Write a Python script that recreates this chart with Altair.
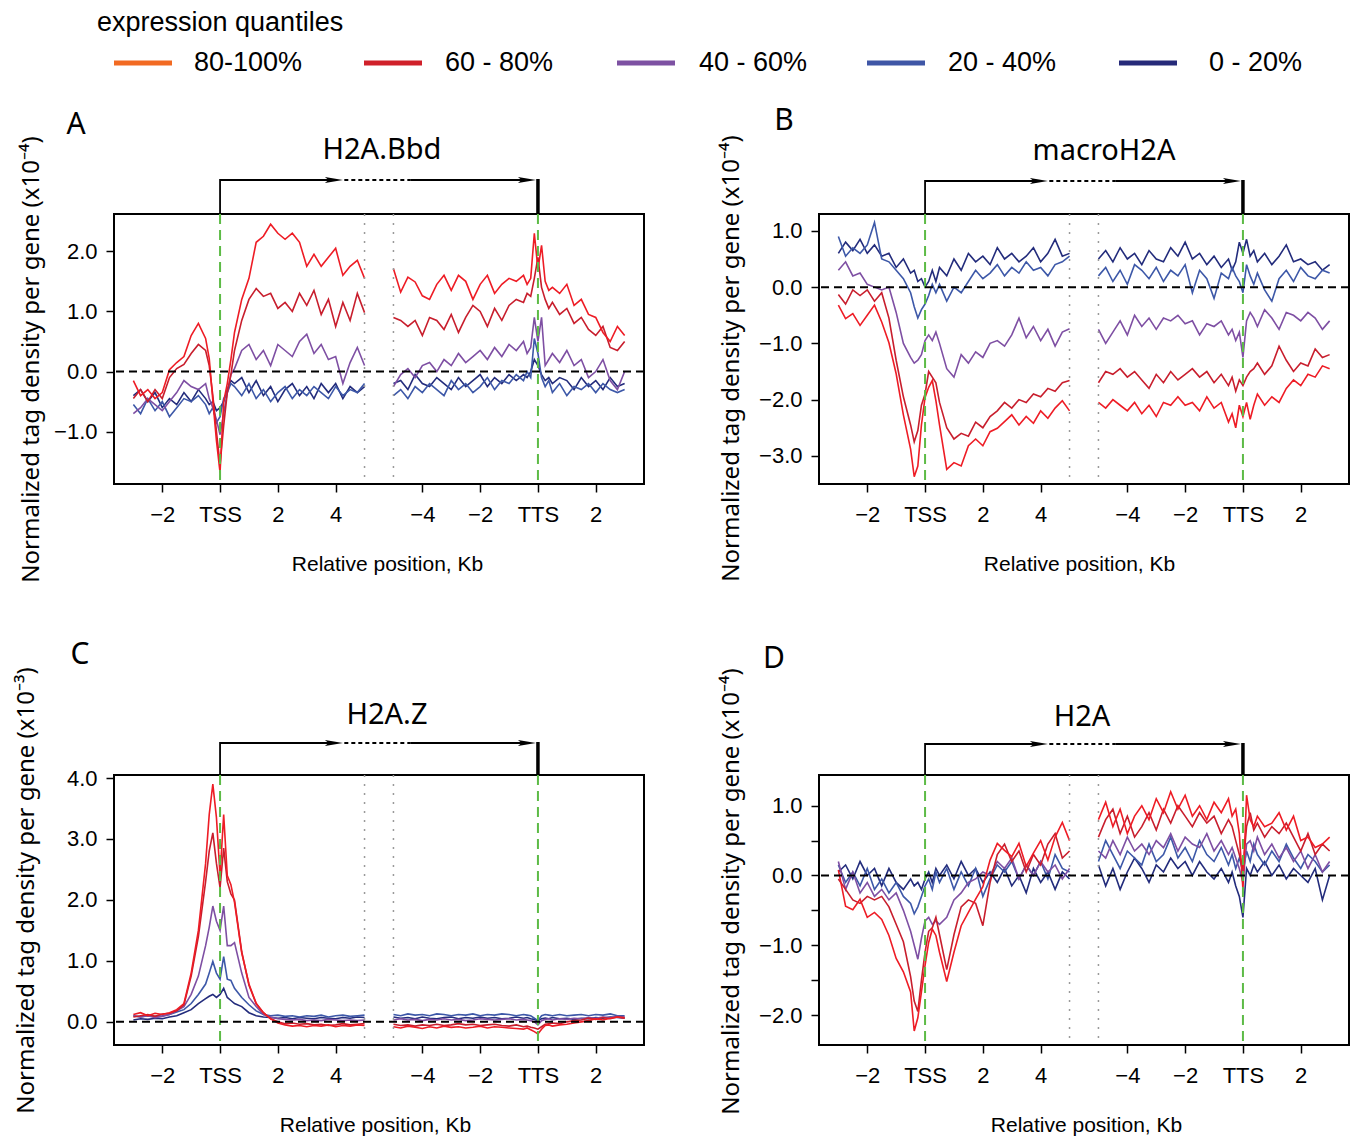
import altair as alt
import pandas as pd

# ---------------- data ----------------
TSS_X = [-3, -2.75, -2.5, -2.25, -2, -1.75, -1.5, -1.25, -1, -0.75, -0.5,
         -0.375, -0.25, -0.125, 0, 0.125, 0.25, 0.375,
         0.5, 0.75, 1, 1.25, 1.5, 1.75, 2, 2.25, 2.5, 2.75, 3, 3.25, 3.5, 3.75, 4, 4.25, 4.5, 4.75, 5]
TTS_X = [-5, -4.75, -4.5, -4.25, -4, -3.75, -3.5, -3.25, -3, -2.75, -2.5, -2.25, -2, -1.75, -1.5, -1.25, -1, -0.75, -0.5,
         -0.375, -0.25, -0.125, 0, 0.125, 0.25, 0.375,
         0.5, 0.75, 1, 1.25, 1.5, 1.75, 2, 2.25, 2.5, 2.75, 3]

# Panel A  (H2A.Bbd, x10^-4)
A_TSS_Q80 = [-0.15, -0.4, -0.3, -0.45, -0.35, 0.03, 0.15, 0.25, 0.6, 0.8, 0.55,
             0.22, -0.48, -1.15, -1.68, -0.5, -0.2, 0.2,
             0.65, 1.2, 1.55, 2.15, 2.25, 2.45, 2.3, 2.2, 2.3, 2.15, 1.75, 1.95, 1.75, 1.9, 2.05, 1.6, 1.75, 1.85, 1.55]
A_TSS_Q60 = [-0.45, -0.3, -0.5, -0.3, -0.45, -0.1, 0.05, 0.12, 0.3, 0.45, 0.35,
             0.1, -0.4, -1.0, -1.55, -0.9, -0.35, -0.05,
             0.35, 0.85, 1.2, 1.38, 1.25, 1.3, 1.05, 1.15, 1.0, 1.3, 1.1, 1.35, 0.95, 1.2, 0.75, 1.15, 0.85, 1.3, 0.98]
A_TSS_Q40 = [-0.7, -0.6, -0.45, -0.55, -0.65, -0.5, -0.35, -0.15, -0.25, -0.3, -0.2,
             -0.45, -0.6, -0.8, -1.05, -0.7, -0.35, -0.05,
             0.05, 0.35, 0.45, 0.2, 0.35, 0.1, 0.45, 0.35, 0.25, 0.5, 0.62, 0.3, 0.45, 0.2, 0.25, -0.2, 0.15, 0.4, 0.1]
A_TSS_Q20 = [-0.55, -0.7, -0.45, -0.65, -0.5, -0.75, -0.6, -0.45, -0.5, -0.4, -0.55,
             -0.7, -0.6, -0.85, -0.75, -0.45, -0.35, -0.2,
             -0.25, -0.4, -0.2, -0.45, -0.3, -0.5, -0.35, -0.25, -0.45, -0.3, -0.4, -0.25, -0.35, -0.45, -0.25, -0.4, -0.3, -0.35, -0.2]
A_TSS_Q0 = [-0.4, -0.3, -0.5, -0.35, -0.6, -0.45, -0.55, -0.35, -0.5, -0.3, -0.45,
            -0.55, -0.5, -0.65, -0.6, -0.5, -0.3, -0.15,
            -0.2, -0.1, -0.35, -0.15, -0.4, -0.25, -0.5, -0.3, -0.2, -0.4, -0.25, -0.45, -0.2, -0.35, -0.2, -0.45, -0.25, -0.35, -0.25]
A_TTS_Q80 = [1.71, 1.32, 1.57, 1.49, 1.26, 1.2, 1.45, 1.6, 1.35, 1.6, 1.5, 1.2, 1.45, 1.6, 1.3, 1.45, 1.55, 1.5, 1.6,
             1.45, 1.55, 2.3, 1.7, 2.1, 1.5, 1.35,
             1.4, 1.3, 1.45, 1.1, 1.2, 0.95, 0.9, 0.65, 0.5, 0.75, 0.6]
A_TTS_Q60 = [0.9, 0.85, 0.75, 0.85, 0.6, 0.9, 0.85, 0.7, 0.95, 0.65, 0.9, 1.1, 1.0, 0.75, 1.05, 0.85, 1.1, 1.2, 1.15,
             1.3, 1.25, 1.55, 1.9, 1.4, 1.2, 1.05,
             1.15, 0.95, 1.05, 0.8, 0.9, 0.7, 0.6, 0.75, 0.4, 0.35, 0.5]
A_TTS_Q40 = [-0.25, -0.05, 0.05, -0.1, 0.1, 0.15, 0.0, 0.2, 0.1, 0.3, 0.15, 0.25, 0.35, 0.2, 0.4, 0.25, 0.45, 0.35, 0.5,
             0.3, 0.4, 0.9, 0.5, 0.9, 0.1, 0.2,
             0.3, 0.15, 0.35, 0.1, 0.2, -0.1, 0.0, 0.2, -0.15, -0.3, 0.0]
A_TTS_Q20 = [-0.4, -0.3, -0.45, -0.25, -0.35, -0.2, -0.3, -0.4, -0.15, -0.3, -0.2, -0.35, -0.25, -0.1, -0.3, -0.15, -0.2, -0.05, -0.15,
             0.0, -0.1, 0.55, 0.3, -0.1, -0.25, -0.15,
             -0.35, -0.2, -0.4, -0.25, -0.3, -0.2, -0.35, -0.2, -0.3, -0.35, -0.3]
A_TTS_Q0 = [-0.2, -0.15, -0.3, -0.05, -0.2, -0.25, -0.1, -0.2, -0.3, -0.1, -0.25, -0.15, -0.05, -0.25, -0.1, -0.2, -0.05, -0.15, -0.05,
            -0.1, 0.0, 0.2, 0.1, -0.05, -0.15, -0.1,
            -0.2, -0.1, -0.15, -0.3, -0.1, -0.25, -0.15, -0.3, -0.1, -0.25, -0.2]

# Panel B  (macroH2A, x10^-4)
B_TSS_Q80 = [-0.32, -0.56, -0.47, -0.68, -0.5, -0.32, -0.62, -0.99, -1.54, -2.27, -2.88,
             -3.37, -3.18, -2.45, -1.96, -1.78, -1.66, -2.02,
             -2.45, -3.24, -3.12, -3.18, -2.82, -2.7, -2.82, -2.57, -2.51, -2.39, -2.27, -2.45, -2.3, -2.42, -2.2, -2.33, -2.15, -2.02, -2.2]
B_TSS_Q60 = [-0.13, -0.3, -0.05, -0.15, -0.05, -0.25, -0.1, -0.55, -1.3, -1.95, -2.45,
             -2.75, -2.55, -2.1, -1.9, -1.5, -1.6, -1.7,
             -2.05, -2.5, -2.7, -2.6, -2.65, -2.4, -2.5, -2.3, -2.2, -2.05, -2.15, -2.0, -2.05, -1.9, -1.95, -1.8, -1.85, -1.7, -1.66]
B_TSS_Q40 = [0.3, 0.45, 0.2, 0.25, 0.05, 0.0, -0.05, 0.0, -0.45, -1.0, -1.25,
             -1.35, -1.3, -1.2, -0.95, -0.85, -0.95, -0.8,
             -1.0, -1.45, -1.6, -1.2, -1.35, -1.15, -1.25, -1.0, -0.95, -1.05, -0.85, -0.55, -0.9, -0.7, -0.95, -0.75, -1.05, -0.8, -0.74]
B_TSS_Q20 = [0.9, 0.55, 0.7, 0.6, 0.75, 1.15, 0.5, 0.45, 0.3, 0.15, -0.1,
             -0.35, -0.55, -0.4, -0.3, -0.15, 0.05, -0.1,
             0.05, -0.25, 0.0, -0.1, 0.1, 0.3, 0.15, 0.25, 0.4, 0.2, 0.35, 0.25, 0.45, 0.3, 0.35, 0.2, 0.4, 0.45, 0.55]
B_TSS_Q0 = [0.6, 0.8, 0.65, 0.85, 0.6, 0.75, 0.55, 0.6, 0.35, 0.5, 0.25,
            0.3, 0.1, 0.15, 0.0, 0.1, 0.3, 0.1,
            0.35, 0.2, 0.5, 0.3, 0.6, 0.45, 0.55, 0.4, 0.7, 0.5, 0.6, 0.45, 0.55, 0.7, 0.45, 0.6, 0.85, 0.55, 0.6]
B_TTS_Q80 = [-2.05, -2.15, -2.0, -2.1, -2.2, -2.05, -2.25, -2.1, -2.3, -2.05, -2.1, -1.95, -2.1, -2.05, -2.2, -1.95, -2.15, -2.05, -2.4,
             -2.25, -2.5, -2.1, -2.3, -2.05, -2.35, -2.1,
             -1.9, -2.1, -1.95, -2.05, -1.8, -1.65, -1.75, -1.55, -1.6, -1.4, -1.45]
B_TTS_Q60 = [-1.7, -1.5, -1.55, -1.45, -1.6, -1.5, -1.65, -1.8, -1.55, -1.7, -1.5, -1.65, -1.55, -1.45, -1.6, -1.5, -1.7, -1.55, -1.75,
             -1.6, -1.85, -1.65, -1.75, -1.6, -1.5, -1.45,
             -1.35, -1.55, -1.4, -1.05, -1.3, -1.5, -1.35, -1.4, -1.1, -1.25, -1.2]
B_TTS_Q40 = [-0.75, -1.0, -0.8, -0.6, -0.85, -0.5, -0.7, -0.55, -0.75, -0.55, -0.6, -0.5, -0.65, -0.6, -0.85, -0.65, -0.7, -0.6, -0.85,
             -0.75, -0.95, -0.8, -1.25, -0.6, -0.45, -0.55,
             -0.7, -0.4, -0.55, -0.75, -0.45, -0.5, -0.6, -0.45, -0.55, -0.75, -0.6]
B_TTS_Q20 = [0.2, 0.35, 0.1, 0.3, 0.05, 0.4, 0.3, 0.15, 0.35, 0.1, 0.3, 0.2, 0.4, -0.1, 0.3, 0.15, -0.2, 0.25, 0.15,
             0.35, 0.2, 0.1, -0.1, 0.4, 0.2, 0.05,
             0.25, -0.05, -0.25, 0.15, 0.3, 0.1, 0.35, 0.2, 0.15, 0.3, 0.25]
B_TTS_Q0 = [0.5, 0.65, 0.45, 0.7, 0.5, 0.6, 0.4, 0.65, 0.5, 0.45, 0.7, 0.55, 0.8, 0.5, 0.6, 0.4, 0.55, 0.35, 0.5,
            0.3, 0.45, 0.8, 0.6, 0.85, 0.55, 0.65,
            0.45, 0.6, 0.4, 0.55, 0.75, 0.45, 0.5, 0.4, 0.45, 0.3, 0.4]

# Panel C  (H2A.Z, x10^-3)
C_TSS_Q80 = [0.12, 0.15, 0.1, 0.14, 0.12, 0.15, 0.2, 0.3, 0.8, 1.5, 2.6,
             3.4, 3.9, 3.35, 2.4, 3.4, 2.4, 2.25,
             1.96, 1.13, 0.62, 0.3, 0.15, 0.05, -0.02, -0.05, -0.07, -0.06, -0.08, -0.06, -0.07, -0.05, -0.08, -0.06, -0.07, -0.05, -0.06]
C_TSS_Q60 = [0.08, 0.1, 0.12, 0.09, 0.13, 0.14, 0.18, 0.28, 0.75, 1.4, 2.3,
             2.8, 3.1, 2.6, 2.2, 2.85, 2.3, 2.1,
             2.0, 1.15, 0.6, 0.3, 0.15, 0.05, 0.0, -0.03, -0.02, -0.04, -0.03, -0.05, -0.04, -0.06, -0.05, -0.03, -0.05, -0.04, -0.03]
C_TSS_Q40 = [0.1, 0.08, 0.1, 0.07, 0.09, 0.12, 0.18, 0.25, 0.45, 0.75, 1.25,
             1.55, 1.9, 1.65, 1.5, 1.9, 1.25, 1.25,
             1.3, 0.8, 0.4, 0.25, 0.12, 0.08, 0.05, 0.04, 0.03, 0.04, 0.02, 0.03, 0.02, 0.04, 0.03, 0.02, 0.03, 0.02, 0.03]
C_TSS_Q20 = [0.1, 0.08, 0.1, 0.09, 0.1, 0.12, 0.16, 0.2, 0.3, 0.45, 0.62,
             0.8, 0.99, 0.8, 0.7, 1.07, 0.7, 0.68,
             0.55, 0.4, 0.28, 0.18, 0.12, 0.1, 0.11, 0.09, 0.1, 0.08, 0.1, 0.09, 0.11, 0.08, 0.1, 0.11, 0.09, 0.1, 0.11]
C_TSS_Q0 = [0.03, 0.05, 0.04, 0.06, 0.05, 0.08, 0.1, 0.15, 0.2, 0.3, 0.38,
            0.42, 0.45, 0.4, 0.45, 0.55, 0.4, 0.35,
            0.3, 0.25, 0.15, 0.1, 0.08, 0.07, 0.06, 0.07, 0.05, 0.07, 0.06, 0.05, 0.07, 0.06, 0.05, 0.07, 0.06, 0.08, 0.07]
C_TTS_Q80 = [-0.08, -0.1, -0.07, -0.09, -0.11, -0.08, -0.1, -0.07, -0.09, -0.08, -0.1, -0.09, -0.07, -0.1, -0.08, -0.09, -0.1, -0.11, -0.12,
             -0.1, -0.13, -0.16, -0.2, -0.12, -0.06, -0.05,
             -0.07, -0.05, -0.04, -0.02, 0.0, 0.02, 0.05, 0.03, 0.06, 0.08, 0.06]
C_TTS_Q60 = [-0.04, -0.06, -0.05, -0.07, -0.05, -0.06, -0.04, -0.06, -0.05, -0.03, -0.05, -0.04, -0.06, -0.05, -0.04, -0.06, -0.07, -0.05, -0.08,
             -0.07, -0.09, -0.1, -0.12, -0.08, -0.04, -0.03,
             -0.02, -0.03, 0.0, 0.02, 0.03, 0.06, 0.04, 0.07, 0.05, 0.08, 0.07]
C_TTS_Q40 = [0.03, 0.05, 0.03, 0.04, 0.02, 0.04, 0.03, 0.05, 0.03, 0.04, 0.02, 0.03, 0.05, 0.04, 0.03, 0.04, 0.05, 0.03, 0.04,
             0.03, 0.02, 0.0, -0.05, 0.02, 0.04, 0.05,
             0.03, 0.05, 0.04, 0.06, 0.05, 0.07, 0.06, 0.08, 0.07, 0.09, 0.08]
C_TTS_Q20 = [0.12, 0.1, 0.13, 0.11, 0.12, 0.1, 0.13, 0.12, 0.1, 0.12, 0.11, 0.13, 0.1, 0.12, 0.11, 0.13, 0.12, 0.1, 0.12,
             0.11, 0.1, 0.06, 0.02, 0.1, 0.12, 0.11,
             0.1, 0.12, 0.1, 0.11, 0.12, 0.1, 0.12, 0.11, 0.13, 0.1, 0.1]
C_TTS_Q0 = [0.08, 0.06, 0.07, 0.05, 0.08, 0.06, 0.05, 0.07, 0.08, 0.05, 0.07, 0.06, 0.08, 0.06, 0.07, 0.05, 0.06, 0.08, 0.06,
            0.07, 0.05, 0.04, 0.02, 0.05, 0.06, 0.05,
            0.07, 0.05, 0.06, 0.04, 0.06, 0.05, 0.07, 0.06, 0.08, 0.07, 0.06]

# Panel D  (H2A, x10^-4)
D_TSS_Q80 = [0.08, -0.44, -0.49, -0.34, -0.6, -0.53, -0.63, -0.86, -1.19, -1.38, -1.67,
             -2.23, -2.04, -1.67, -1.29, -0.96, -0.77, -0.86,
             -1.1, -1.52, -1.1, -0.72, -0.53, -0.34, -0.16, 0.22, 0.46, 0.36, 0.27, 0.46, 0.13, 0.32, 0.5, 0.22, 0.55, 0.76, 0.5]
D_TSS_Q60 = [-0.05, -0.2, -0.35, -0.4, -0.3, -0.35, -0.3, -0.45, -0.7, -0.95, -1.45,
             -1.8, -1.95, -1.5, -1.1, -0.8, -0.75, -0.6,
             -0.85, -1.35, -0.85, -0.45, -0.35, -0.4, -0.72, -0.1, 0.3, 0.45, 0.2, 0.35, 0.05, 0.3, 0.15, 0.45, 0.6, 0.25, 0.35]
D_TSS_Q40 = [0.2, -0.2, 0.05, -0.25, -0.1, -0.3, -0.2, -0.35, -0.25, -0.5, -0.8,
             -1.0, -1.2, -0.9, -0.65, -0.6, -0.7, -0.65,
             -0.7, -0.6, -0.35, -0.25, -0.1, -0.05, 0.05, 0.0, 0.2, 0.1, 0.25, -0.05, 0.15, 0.0, 0.2, 0.05, 0.15, -0.05, 0.1]
D_TSS_Q20 = [0.15, -0.1, 0.05, -0.15, 0.1, -0.2, -0.05, -0.25, -0.1, -0.3, -0.4,
             -0.55, -0.45, -0.3, -0.15, -0.05, -0.2, 0.05,
             -0.1, 0.1, -0.2, 0.05, -0.15, 0.1, -0.3, -0.05, 0.15, 0.05, 0.2, -0.05, 0.15, 0.0, 0.2, -0.05, 0.3, 0.1, 0.05]
D_TSS_Q0 = [0.05, 0.15, -0.05, 0.2, 0.0, 0.1, -0.15, 0.1, -0.1, -0.2, -0.05,
            -0.15, -0.1, -0.2, -0.05, 0.05, -0.1, 0.1,
            0.0, 0.15, -0.05, 0.2, 0.0, 0.1, -0.1, 0.05, -0.1, 0.1, -0.15, 0.0, -0.25, 0.1, -0.1, 0.05, -0.2, 0.05, -0.05]
D_TTS_Q80 = [0.8, 1.05, 0.7, 0.95, 0.6, 0.85, 1.0, 0.8, 1.1, 0.9, 1.2, 0.95, 1.15, 0.85, 1.0, 0.8, 1.05, 0.9, 1.1,
             0.85, 0.95, 0.6, -0.2, 1.15, 0.8, 0.7,
             0.85, 0.7, 0.75, 0.9, 0.65, 0.85, 0.5, 0.55, 0.4, 0.45, 0.55]
D_TTS_Q60 = [0.55, 0.8, 0.95, 0.6, 0.85, 0.55, 0.7, 0.9, 0.65, 0.95, 0.75, 1.0, 0.85, 0.7, 0.9, 0.75, 0.85, 0.6, 0.8,
             0.7, 0.5, 0.3, 0.1, 0.7, 0.9, 0.65,
             0.75, 0.55, 0.7, 0.6, 0.75, 0.55, 0.35, 0.6, 0.3, 0.45, 0.35]
D_TTS_Q40 = [0.35, 0.25, 0.5, 0.3, 0.55, 0.35, 0.45, 0.3, 0.5, 0.4, 0.6, 0.35, 0.55, 0.45, 0.4, 0.6, 0.35, 0.5, 0.3,
             0.4, 0.25, 0.1, -0.1, 0.45, 0.5, 0.35,
             0.55, 0.3, 0.45, 0.25, 0.4, 0.2, 0.35, 0.1, 0.3, 0.05, 0.2]
D_TTS_Q20 = [0.2, 0.5, 0.3, 0.1, 0.35, 0.25, 0.15, 0.45, 0.2, 0.3, 0.55, 0.25, 0.4, 0.2, 0.5, 0.3, 0.2, 0.4, 0.15,
             0.3, 0.1, 0.25, 0.05, 0.35, 0.2, 0.45,
             0.3, 0.15, 0.35, 0.2, 0.45, 0.25, 0.1, 0.3, 0.2, 0.05, 0.15]
D_TTS_Q0 = [0.15, -0.15, 0.1, -0.2, 0.05, 0.25, 0.1, -0.1, 0.15, 0.05, 0.25, 0.1, 0.2, 0.0, 0.2, 0.05, -0.05, 0.1, -0.1,
            0.05, -0.15, -0.3, -0.6, 0.1, 0.0, 0.15,
            0.05, 0.2, 0.0, 0.15, -0.05, 0.1, 0.0, -0.1, 0.1, -0.35, 0.0]

SERIES = ["q0", "q20", "q40", "q60", "q80"]          # drawing order
LEGEND_LABELS = ["80-100%", "60 - 80%", "40 - 60%", "20 - 40%", "0 - 20%"]
LEGEND_TITLE = "expression quantiles"
PANEL_NAMES = ["H2A.Bbd", "macroH2A", "H2A.Z", "H2A"]
PANEL_LETTERS = ["A", "B", "C", "D"]
PANEL_EXP = ["⁻⁴", "⁻⁴", "⁻³", "⁻⁴"]
XTICKS = [-2, 0, 2, 4, 7, 9, 11, 13]
YTICKS = [[-1, 0, 1, 2], [-3, -2, -1, 0, 1], [0, 1, 2, 3, 4], [-2, -1.5, -1, -0.5, 0, 0.5, 1]]
YDOMAINS = [[-1.87, 2.62], [-3.5, 1.3], [-0.38, 4.05], [-2.43, 1.44]]

TSS_DATA = [
    dict(q80=A_TSS_Q80, q60=A_TSS_Q60, q40=A_TSS_Q40, q20=A_TSS_Q20, q0=A_TSS_Q0),
    dict(q80=B_TSS_Q80, q60=B_TSS_Q60, q40=B_TSS_Q40, q20=B_TSS_Q20, q0=B_TSS_Q0),
    dict(q80=C_TSS_Q80, q60=C_TSS_Q60, q40=C_TSS_Q40, q20=C_TSS_Q20, q0=C_TSS_Q0),
    dict(q80=D_TSS_Q80, q60=D_TSS_Q60, q40=D_TSS_Q40, q20=D_TSS_Q20, q0=D_TSS_Q0),
]
TTS_DATA = [
    dict(q80=A_TTS_Q80, q60=A_TTS_Q60, q40=A_TTS_Q40, q20=A_TTS_Q20, q0=A_TTS_Q0),
    dict(q80=B_TTS_Q80, q60=B_TTS_Q60, q40=B_TTS_Q40, q20=B_TTS_Q20, q0=B_TTS_Q0),
    dict(q80=C_TTS_Q80, q60=C_TTS_Q60, q40=C_TTS_Q40, q20=C_TTS_Q20, q0=C_TTS_Q0),
    dict(q80=D_TTS_Q80, q60=D_TTS_Q60, q40=D_TTS_Q40, q20=D_TTS_Q20, q0=D_TTS_Q0),
]

# ---------------- styles / layout ----------------
LINE_COLORS = {"q80": "#EE1C25", "q60": "#C81E2D", "q40": "#7E4FA3", "q20": "#3D58A8", "q0": "#232C7C"}
LEGEND_COLORS = ["#F26A22", "#D0202A", "#7D51A2", "#3F56A6", "#262A79"]
TTS_OFFSET = 11
XDOM = [-3.67, 14.67]
W, H = 530, 270

LAYOUT = [
    dict(ay=-34, nx=268, ny=-64, lx=-38, ly=-89, ytx=-83, yty=145, xtx=273),
    dict(ay=-33, nx=285, ny=-63, lx=-35, ly=-93, ytx=-88, yty=144, xtx=260),
    dict(ay=-32, nx=273, ny=-60, lx=-34, ly=-120, ytx=-88, yty=115, xtx=261),
    dict(ay=-31, nx=263, ny=-58, lx=-45, ly=-116, ytx=-88, yty=116, xtx=267),
]
LEG_SYM_X = [0, 250, 503, 753, 1005]
LEG_LAB_X = [80, 331, 585, 834, 1095]
LEG_Y = -151
LEG_TITLE_X, LEG_TITLE_Y = -17, -191

HEAD = "M-1,-0.34L1,0L-1,0.34L-0.6,0Z"
XEXPR = ("datum.value == 0 ? 'TSS' : datum.value == 11 ? 'TTS' : "
         "datum.value < 5.5 ? format(datum.value, 'd') : format(datum.value - 11, 'd')")
YEXPR = "datum.value % 1 == 0 ? format(datum.value, '.1f') : ''"

ONE = pd.DataFrame({"k": [0]})


def build_panel(i):
    lay = LAYOUT[i]
    rows = []
    for s in SERIES:
        for x, v in zip(TSS_X, TSS_DATA[i][s], strict=True):
            rows.append({"u": x, "v": v, "s": s, "seg": "tss"})
        for x, v in zip(TTS_X, TTS_DATA[i][s], strict=True):
            rows.append({"u": TTS_OFFSET + x, "v": v, "s": s, "seg": "tts"})
    df = pd.DataFrame(rows)

    X = alt.X("u:Q", scale=alt.Scale(domain=XDOM, nice=False, zero=False),
              axis=alt.Axis(values=XTICKS, labelExpr=XEXPR, title="Relative position, Kb",
                            titleX=lay["xtx"], titleY=80, titleBaseline="middle", titleAlign="center"))
    Y = alt.Y("v:Q", scale=alt.Scale(domain=YDOMAINS[i], nice=False, zero=False),
              axis=alt.Axis(values=YTICKS[i], labelExpr=YEXPR,
                            title=f"Normalized tag density per gene (x10{PANEL_EXP[i]})",
                            titleX=lay["ytx"], titleY=lay["yty"], titleAngle=270,
                            titleBaseline="middle", titleAlign="center",
                            titleFont="Noto Sans", titleFontSize=24))
    layers = []
    for s in SERIES:
        layers.append(alt.Chart(df[df.s == s]).mark_line(color=LINE_COLORS[s], strokeWidth=1.6)
                      .encode(x=X, y=Y, detail="seg:N"))
    # gray dotted break lines
    layers.append(alt.Chart(pd.DataFrame({"u": [5, 6]})).mark_rule(color="#9a9a9a", strokeDash=[2, 7], strokeWidth=1.5)
                  .encode(x=X))
    # green TSS / TTS lines
    layers.append(alt.Chart(pd.DataFrame({"u": [0, TTS_OFFSET]})).mark_rule(color="#5DBB46", strokeDash=[10, 6], strokeWidth=2)
                  .encode(x=X))
    # zero line
    layers.append(alt.Chart(pd.DataFrame({"v": [0]})).mark_rule(color="black", strokeDash=[8, 5], strokeWidth=2)
                  .encode(y=Y))
    # gene arrow
    ay = lay["ay"]
    layers.append(alt.Chart(pd.DataFrame({"u": [0, 6.6], "u2": [3.95, 10.7]})).mark_rule(color="black", strokeWidth=1.8)
                  .encode(x=X, x2="u2:Q", y=alt.value(ay)))
    layers.append(alt.Chart(pd.DataFrame({"u": [4.3], "u2": [6.6]})).mark_rule(color="black", strokeWidth=1.8, strokeDash=[4, 3])
                  .encode(x=X, x2="u2:Q", y=alt.value(ay)))
    layers.append(alt.Chart(pd.DataFrame({"u": [0]})).mark_rule(color="black", strokeWidth=1.8)
                  .encode(x=X, y=alt.value(ay - 1), y2=alt.value(0)))
    layers.append(alt.Chart(pd.DataFrame({"u": [TTS_OFFSET]})).mark_rule(color="black", strokeWidth=3.5)
                  .encode(x=X, y=alt.value(ay - 1), y2=alt.value(0)))
    layers.append(alt.Chart(pd.DataFrame({"u": [3.94, 10.62]}))
                  .mark_point(shape=HEAD, filled=True, size=324, color="black", opacity=1, strokeWidth=0)
                  .encode(x=X, y=alt.value(ay)))
    # panel name and letter
    layers.append(alt.Chart(pd.DataFrame({"t": [PANEL_NAMES[i]]}))
                  .mark_text(font="Noto Sans", fontSize=29, color="black", align="center", baseline="middle")
                  .encode(x=alt.value(lay["nx"]), y=alt.value(lay["ny"]), text="t:N"))
    layers.append(alt.Chart(pd.DataFrame({"t": [PANEL_LETTERS[i]]}))
                  .mark_text(font="Noto Sans", fontSize=30, color="black", align="center", baseline="middle")
                  .encode(x=alt.value(lay["lx"]), y=alt.value(lay["ly"]), text="t:N"))
    if i == 0:
        layers.append(alt.Chart(pd.DataFrame({"t": [LEGEND_TITLE]}))
                      .mark_text(font="Liberation Sans", fontSize=27, color="black", align="left", baseline="middle")
                      .encode(x=alt.value(LEG_TITLE_X), y=alt.value(LEG_TITLE_Y), text="t:N"))
        for j, (lab, col) in enumerate(zip(LEGEND_LABELS, LEGEND_COLORS)):
            layers.append(alt.Chart(ONE).mark_rule(color=col, strokeWidth=5)
                          .encode(x=alt.value(LEG_SYM_X[j]), x2=alt.value(LEG_SYM_X[j] + 58), y=alt.value(LEG_Y)))
            layers.append(alt.Chart(pd.DataFrame({"t": [lab]}))
                          .mark_text(font="Liberation Sans", fontSize=27, color="black", align="left", baseline="middle")
                          .encode(x=alt.value(LEG_LAB_X[j]), y=alt.value(LEG_Y), text="t:N"))
    return alt.layer(*layers).properties(width=W, height=H)


panels = [build_panel(i) for i in range(4)]

chart = (
    alt.concat(*panels, columns=2, spacing={"row": 291, "column": 175}, bounds="flush")
    .properties(padding={"left": 4, "top": 0, "right": 0, "bottom": 0})
    .configure_view(stroke="black", strokeWidth=2)
    .configure_axis(grid=False, domain=False, labelFont="Liberation Sans", labelFontSize=22,
                    labelColor="black", tickColor="black", tickSize=8, tickWidth=1.5,
                    titleColor="black", titleFontWeight="normal", labelFlush=False, labelOverlap=False)
    .configure_axisX(labelPadding=12, titleFont="Liberation Sans", titleFontSize=21)
    .configure_axisY(labelPadding=9)
)

chart.save("out.html", embed_options={"renderer": "svg", "actions": False})
